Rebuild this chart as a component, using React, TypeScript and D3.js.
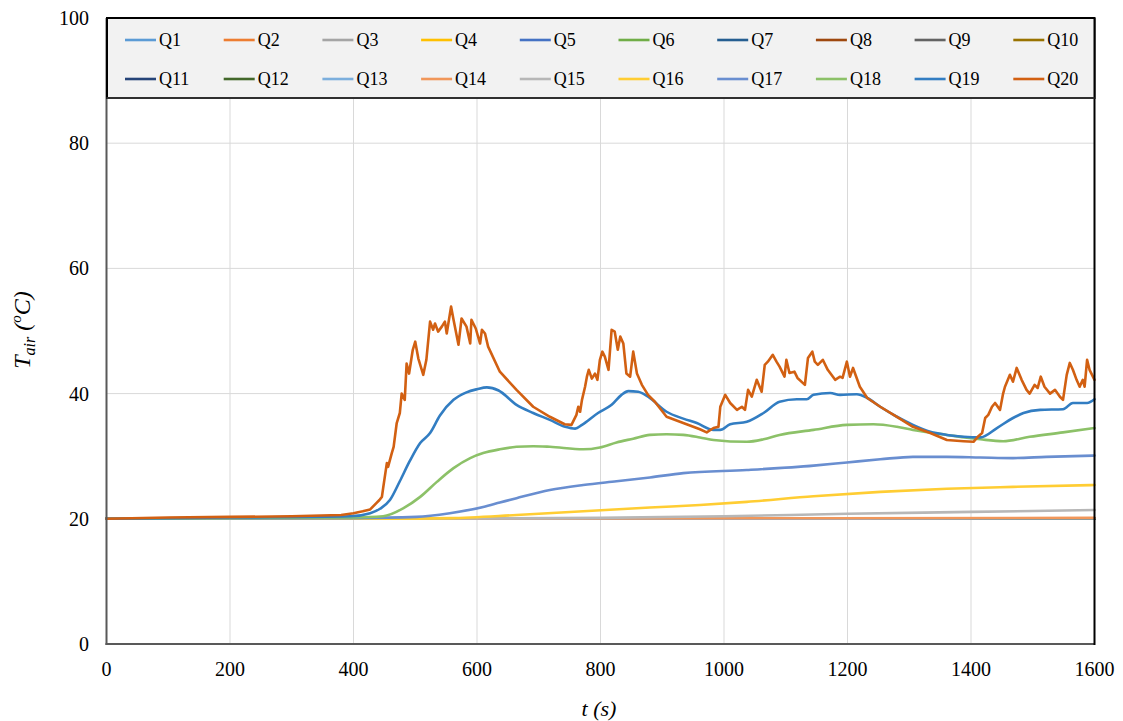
import React from "react";
import * as d3 from "d3";

// Chart frame
const W = 1123;
const H = 721;
const M = { left: 106.5, right: 1094.5, top: 18, bottom: 644 };

const xTicks = [0, 200, 400, 600, 800, 1000, 1200, 1400, 1600];
const yTicks = [0, 20, 40, 60, 80, 100];

const seriesNames = [
  "Q1", "Q2", "Q3", "Q4", "Q5", "Q6", "Q7", "Q8", "Q9", "Q10",
  "Q11", "Q12", "Q13", "Q14", "Q15", "Q16", "Q17", "Q18", "Q19", "Q20",
];

const seriesColors = [
  "#5B9BD5", "#ED7D31", "#A5A5A5", "#FFC000", "#4472C4", "#70AD47",
  "#255E91", "#9E480E", "#636363", "#997300", "#264478", "#43682B",
  "#7CAFDD", "#F1975A", "#B7B7B7", "#FFCD33", "#698ED0", "#8CC168",
  "#327DC2", "#D26012",
];

// Sensors that stay at ambient temperature
const flatT = [0, 400, 800, 1200, 1600];
const flatV = [20, 20, 20, 20, 20];

const q13T = [0, 800, 1600];
const q13V = [20, 20.02, 20.05];

const q14T = [0, 800, 1600];
const q14V = [20, 20.05, 20.15];

const q15T = [0, 600, 800, 1000, 1200, 1400, 1600];
const q15V = [20, 20.05, 20.15, 20.4, 20.8, 21.1, 21.4];

const q16T = [0, 450, 556, 664, 772, 880, 961, 1037, 1145, 1253, 1361, 1468, 1600];
const q16V = [20, 20, 20.1, 20.6, 21.2, 21.8, 22.2, 22.7, 23.6, 24.3, 24.8, 25.1, 25.4];

const q17T = [0, 400, 502, 556, 610, 637, 664, 718, 772, 826, 880, 934, 1037, 1145, 1199, 1253, 1306, 1361, 1415, 1468, 1522, 1600];
const q17V = [20, 20.1, 20.3, 20.9, 21.9, 22.6, 23.3, 24.6, 25.4, 26, 26.6, 27.3, 27.8, 28.5, 29, 29.5, 29.9, 29.9, 29.8, 29.7, 29.9, 30.1];

const q18T = [0, 400, 448, 481, 508, 535, 562, 589, 610, 637, 664, 691, 718, 772, 799, 826, 853, 880, 907, 934, 961, 983, 1037, 1064, 1090, 1145, 1199, 1242, 1280, 1306, 1361, 1415, 1452, 1495, 1549, 1600];
const q18V = [20, 20.2, 20.4, 21.7, 23.5, 25.9, 28.1, 29.7, 30.5, 31.1, 31.5, 31.6, 31.5, 31.1, 31.4, 32.2, 32.8, 33.4, 33.5, 33.4, 33.0, 32.6, 32.3, 32.7, 33.4, 34.2, 35.0, 35.1, 34.7, 34.2, 33.4, 32.7, 32.4, 33.1, 33.8, 34.5];

const q19T = [0, 200, 394, 427, 443, 459, 475, 491, 508, 524, 540, 562, 583, 600, 616, 635, 664, 691, 718, 743, 759, 770, 796, 818, 834, 845, 861, 877, 907, 934, 956, 983, 994, 1010, 1037, 1064, 1090, 1118, 1134, 1145, 1172, 1188, 1215, 1232, 1253, 1280, 1306, 1334, 1361, 1388, 1415, 1442, 1468, 1485, 1512, 1549, 1565, 1588, 1600];
const q19V = [20, 20.2, 20.4, 20.9, 21.6, 23, 26, 29.2, 32.1, 33.7, 36.5, 39, 40.2, 40.7, 41, 40.5, 38.2, 36.9, 35.8, 34.7, 34.4, 35, 36.9, 38.2, 39.8, 40.4, 40.3, 39.5, 37.1, 36, 35.3, 34.2, 34.2, 35.1, 35.5, 36.9, 38.7, 39.1, 39.1, 39.8, 40.1, 39.8, 39.9, 39.3, 37.9, 36.3, 35, 33.9, 33.4, 33.1, 33, 34.5, 36.1, 36.9, 37.4, 37.5, 38.5, 38.5, 39.1];

const q20T = [0, 100, 200, 300, 380, 400, 415, 427, 437, 442, 446, 448, 454, 456, 462, 465, 470, 475, 478, 483, 486, 490, 496, 500, 505, 513, 518, 524, 529, 532, 537, 543, 548, 551, 558, 562, 570, 575, 583, 589, 591, 598, 605, 608, 613, 618, 637, 664, 691, 718, 742, 753, 761, 764, 767, 770, 775, 778, 781, 786, 791, 795, 799, 803, 807, 813, 818, 823, 828, 832, 837, 842, 848, 853, 859, 867, 877, 888, 907, 934, 961, 972, 983, 991, 994, 1002, 1010, 1021, 1029, 1034, 1039, 1045, 1053, 1061, 1066, 1071, 1079, 1085, 1090, 1098, 1101, 1106, 1114, 1119, 1131, 1136, 1143, 1147, 1152, 1160, 1168, 1180, 1188, 1192, 1199, 1204, 1209, 1220, 1232, 1253, 1280, 1306, 1334, 1361, 1388, 1404, 1411, 1418, 1423, 1428, 1434, 1439, 1447, 1452, 1455, 1463, 1468, 1474, 1482, 1490, 1495, 1503, 1508, 1513, 1519, 1528, 1536, 1544, 1549, 1555, 1560, 1565, 1571, 1576, 1581, 1584, 1588, 1592, 1600];
const q20V = [20, 20.2, 20.3, 20.4, 20.6, 20.9, 21.2, 21.5, 22.5, 23.0, 23.5, 24.9, 28.9, 28.3, 30.5, 31.5, 35.3, 36.9, 40, 39, 44.8, 43.2, 47, 48.3, 45.6, 43, 45.4, 51.5, 50.2, 51.2, 49.9, 50.7, 51.5, 49.6, 53.9, 51.8, 47.8, 52, 50.7, 48, 51.8, 50.4, 48, 50.2, 49.6, 47.5, 43.5, 40.6, 37.9, 36.3, 35.1, 35, 36.6, 37.9, 37.1, 39, 41.1, 42.7, 43.8, 42.4, 43.2, 42.2, 45.4, 46.7, 45.9, 43.8, 50.2, 49.9, 47, 49.1, 48, 43.2, 42.7, 46.7, 43.2, 41.4, 39.8, 38.7, 36.3, 35.3, 34.3, 33.8, 34.5, 34.7, 37.9, 39.8, 38.5, 37.4, 37.9, 37.4, 40.6, 39.5, 42.2, 40.3, 44.6, 45.1, 46.2, 45.1, 44.3, 42.7, 45.4, 43.3, 43.5, 42.5, 41.4, 45.7, 46.7, 45.1, 44.6, 45.4, 43.8, 42.2, 42.7, 42.5, 45.1, 42.7, 44.1, 41.1, 39.3, 37.9, 36.3, 34.7, 33.7, 32.6, 32.4, 32.3, 33.1, 33.7, 36.1, 36.6, 37.9, 38.5, 37.4, 40, 41.1, 43, 41.9, 44.1, 42.2, 40.6, 40, 41.4, 40.9, 42.7, 41.1, 40, 40.6, 39.5, 39, 43, 44.9, 43.8, 42.2, 41.1, 42.2, 41.1, 45.4, 43.8, 42.2];

const seriesTimes = [
  flatT, flatT, flatT, flatT, flatT, flatT, flatT, flatT, flatT, flatT,
  flatT, flatT, q13T, q14T, q15T, q16T, q17T, q18T, q19T, q20T,
];
const seriesValues = [
  flatV, flatV, flatV, flatV, flatV, flatV, flatV, flatV, flatV, flatV,
  flatV, flatV, q13V, q14V, q15V, q16V, q17V, q18V, q19V, q20V,
];

const FONT = "'Liberation Serif', 'Times New Roman', serif";

export default function App() {
  const x = d3.scaleLinear().domain([0, 1600]).range([M.left, M.right]);
  const y = d3.scaleLinear().domain([0, 100]).range([M.bottom, M.top]);

  const smooth = d3
    .line<[number, number]>()
    .x((d) => x(d[0]))
    .y((d) => y(d[1]))
    .curve(d3.curveMonotoneX);
  const jagged = d3
    .line<[number, number]>()
    .x((d) => x(d[0]))
    .y((d) => y(d[1]));

  const legendX0 = 125;
  const legendDx = 98.7;
  const legendRows = [40, 79];

  return (
    <svg
      width={W}
      height={H}
      style={{ position: "absolute", left: 0, top: 0, background: "#fff" }}
      fontFamily={FONT}
    >
      {/* grid */}
      {xTicks.slice(1, -1).map((t) => (
        <line key={"gx" + t} x1={x(t)} x2={x(t)} y1={M.top} y2={M.bottom} stroke="#d9d9d9" strokeWidth={1} />
      ))}
      {yTicks.slice(1, -1).map((t) => (
        <line key={"gy" + t} x1={M.left} x2={M.right} y1={y(t)} y2={y(t)} stroke="#d9d9d9" strokeWidth={1} />
      ))}

      {/* series */}
      {seriesNames.map((name, i) => {
        const pts = seriesTimes[i].map((t, k) => [t, seriesValues[i][k]] as [number, number]);
        const gen = name === "Q20" ? jagged : smooth;
        return (
          <path
            key={name}
            d={gen(pts) || ""}
            fill="none"
            stroke={seriesColors[i]}
            strokeWidth={2.6}
            strokeLinejoin="round"
            strokeLinecap="round"
          />
        );
      })}

      {/* axes */}
      <line x1={M.left} x2={M.left} y1={M.top} y2={M.bottom + 1} stroke="#595959" strokeWidth={2} />
      <line x1={M.left - 1} x2={M.right} y1={M.bottom} y2={M.bottom} stroke="#595959" strokeWidth={2} />
      <line x1={M.right} x2={M.right} y1={M.top} y2={M.bottom + 1} stroke="#000" strokeWidth={2} />

      {/* legend */}
      <rect x={M.left + 0.5} y={M.top} width={M.right - M.left - 0.5} height={80} fill="#f2f2f2" stroke="#000" strokeWidth={2} />
      <line x1={M.left} x2={M.right} y1={M.top + 80} y2={M.top + 80} stroke="#404040" strokeWidth={1.5} />
      {seriesNames.map((name, i) => {
        const col = i % 10;
        const row = Math.floor(i / 10);
        const lx = legendX0 + col * legendDx;
        const ly = legendRows[row];
        return (
          <g key={"lg" + name}>
            <line x1={lx} x2={lx + 31} y1={ly} y2={ly} stroke={seriesColors[i]} strokeWidth={2.6} />
            <text x={lx + 34} y={ly + 6} fontSize={18} fill="#000">
              {name}
            </text>
          </g>
        );
      })}

      {/* tick labels */}
      {yTicks.map((t) => (
        <text key={"yl" + t} x={89} y={y(t)} dy="0.35em" textAnchor="end" fontSize={20} fill="#000">
          {t}
        </text>
      ))}
      {xTicks.map((t) => (
        <text key={"xl" + t} x={x(t)} y={676} textAnchor="middle" fontSize={20} fill="#000">
          {t}
        </text>
      ))}

      {/* axis titles */}
      <text x={599} y={716} textAnchor="middle" fontSize={22} fontStyle="italic" fill="#000">
        t (s)
      </text>
      <text
        transform="translate(30,330) rotate(-90)"
        textAnchor="middle"
        fontSize={24}
        fontStyle="italic"
        fill="#000"
      >
        <tspan>T</tspan>
        <tspan fontSize={16} dy={5}>air</tspan>
        <tspan dy={-5}> (</tspan>
        <tspan fontSize={15} dy={-9}>o</tspan>
        <tspan dy={9}>C)</tspan>
      </text>
    </svg>
  );
}
